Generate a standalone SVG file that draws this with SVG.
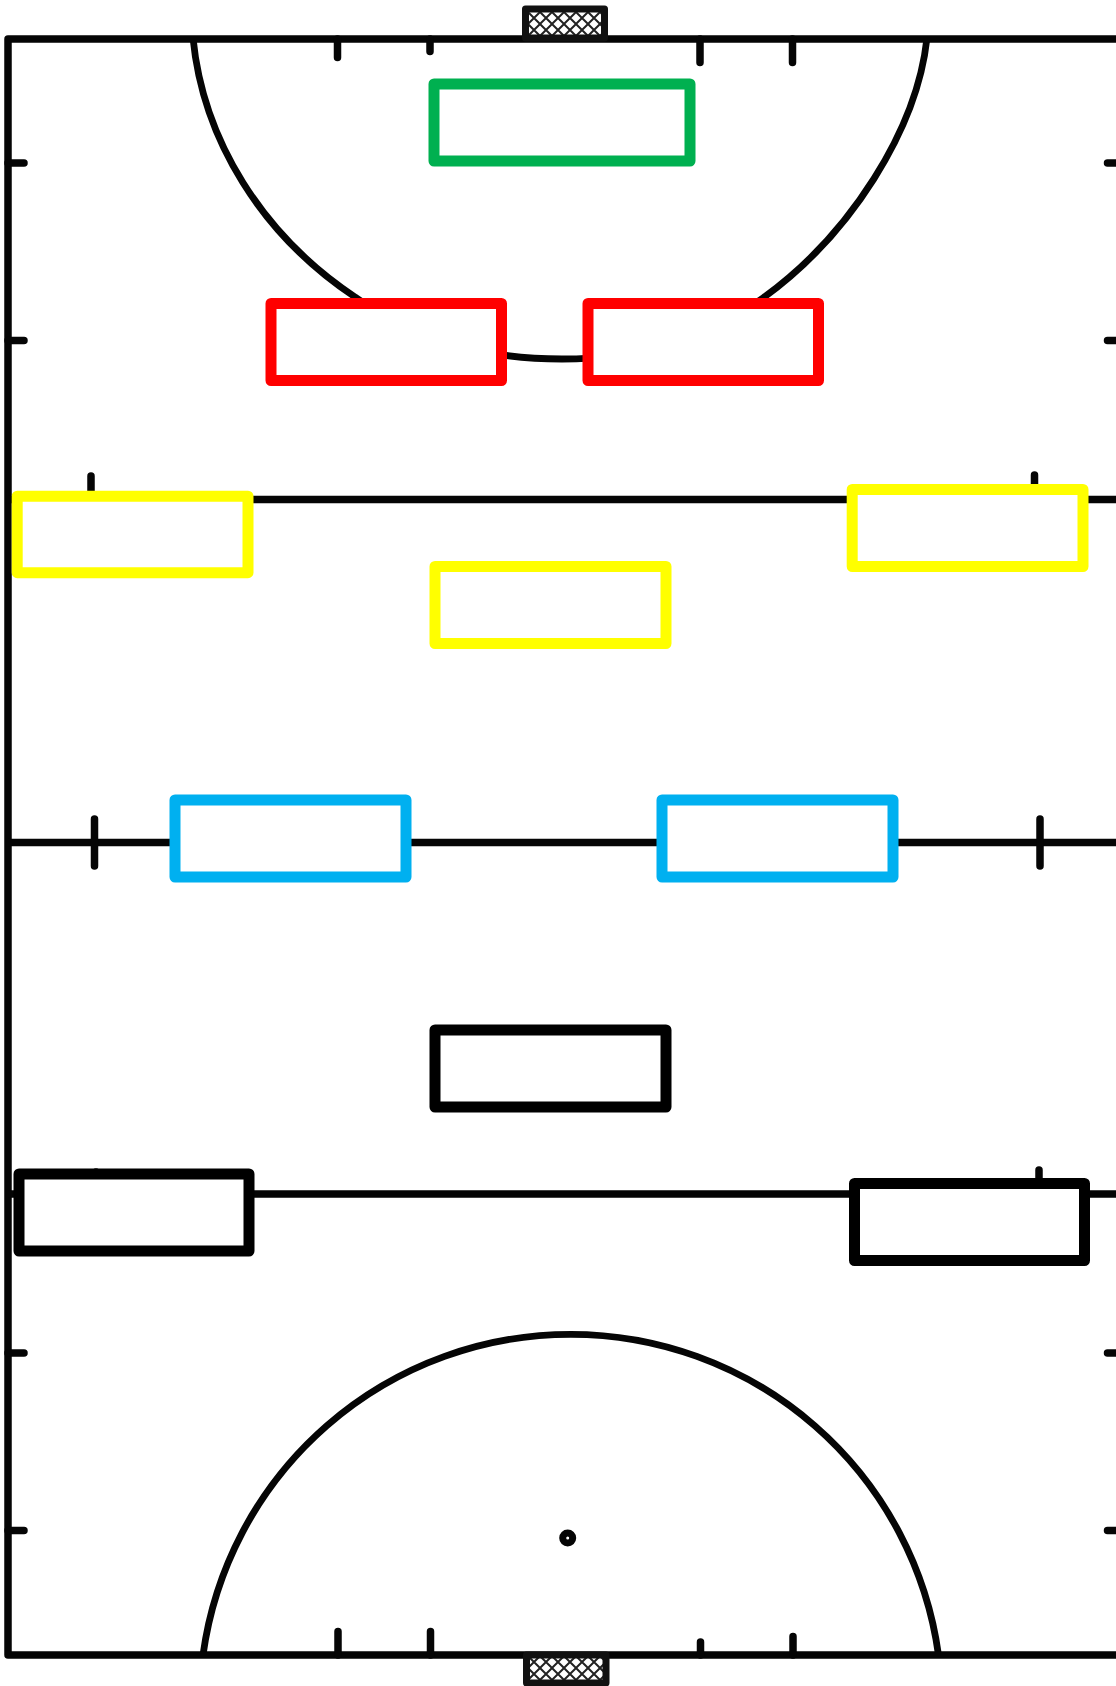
<svg xmlns="http://www.w3.org/2000/svg" width="1116" height="1686" viewBox="0 0 1116 1686">
<style>
.l{fill:none;stroke:#050505;stroke-width:7.500;stroke-linecap:round}
.a{fill:none;stroke:#050505;stroke-width:6.800}
.g{fill:url(#net);stroke:#111;stroke-width:7;stroke-linejoin:round}
.b{fill:#fff;stroke-width:11;stroke-linejoin:round}
</style>
<defs>
<pattern id="net" width="12" height="12" patternUnits="userSpaceOnUse" x="528" y="12">
<rect width="12" height="12" fill="#fff"/>
<path d="M0 0L12 12M12 0L0 12" stroke="#222" stroke-width="2"/>
</pattern>
</defs>
<rect width="1116" height="1686" fill="#fff"/>
<g id="field">
<path class="a" d="M193 38C203 140 262 235 355 297C420 345 495 359 562 359C632 359 700 343 763 298C850 235 917 130 927 38"/>
<path class="a" d="M203 1655A371.200 371.200 0 0 1 938.500 1655"/>
<path class="l" d="M8 39V1655M8 39H1116M8 1655H1116"/>
<path class="l" d="M8 499.500H1116M8 842.500H1116M8 1194H1116" style="stroke-linecap:butt"/>
<path class="l" d="M337.500 39V57.500M430 39V51.500M700 39V62.500M792.500 39V62.500M338 1655V1631.500M430.500 1655V1631.500M700.500 1655V1642M793 1655V1636.500"/>
<path class="l" d="M8 163H24M8 340.500H24M8 1353H24M8 1530.500H24M1107.500 163H1116M1107.500 340.500H1116M1107.500 1353H1116M1107.500 1530.500H1116"/>
<path class="l" d="M94.500 819V866M1040 819V866M91 476V499M1034.500 475V499M1039 1170V1194M96 1172V1194"/>
<circle cx="567.700" cy="1538" r="5" fill="none" stroke="#050505" stroke-width="7"/>
<rect class="g" x="525.500" y="9" width="79" height="29"/>
<path d="M526.500 1655V1683H606V1655Z" class="g"/>
</g>
<g id="gk"><rect class="b" stroke="#00b050" x="434" y="84" width="256" height="77"/></g>
<g id="def-left"><rect class="b" stroke="#f00" x="271" y="303.500" width="230.500" height="77"/></g>
<g id="def-right"><rect class="b" stroke="#f00" x="588" y="303.500" width="230.500" height="77"/></g>
<g id="mid-left"><rect class="b" stroke="#ff0" x="17.200" y="496.200" width="230.800" height="76.500"/></g>
<g id="mid-right"><rect class="b" stroke="#ff0" x="852.200" y="489.500" width="230.800" height="77"/></g>
<g id="mid-centre"><rect class="b" stroke="#ff0" x="435" y="566.500" width="231" height="77"/></g>
<g id="inner-left"><rect class="b" stroke="#00b0f0" x="175" y="800" width="231" height="77"/></g>
<g id="inner-right"><rect class="b" stroke="#00b0f0" x="662" y="800" width="231" height="77"/></g>
<g id="fwd-centre"><rect class="b" stroke="#000" x="435" y="1030" width="231" height="77"/></g>
<g id="fwd-left"><rect class="b" stroke="#000" x="19" y="1174" width="230" height="77"/></g>
<g id="fwd-right"><rect class="b" stroke="#000" x="854.500" y="1183.500" width="230" height="77"/></g>
</svg>
